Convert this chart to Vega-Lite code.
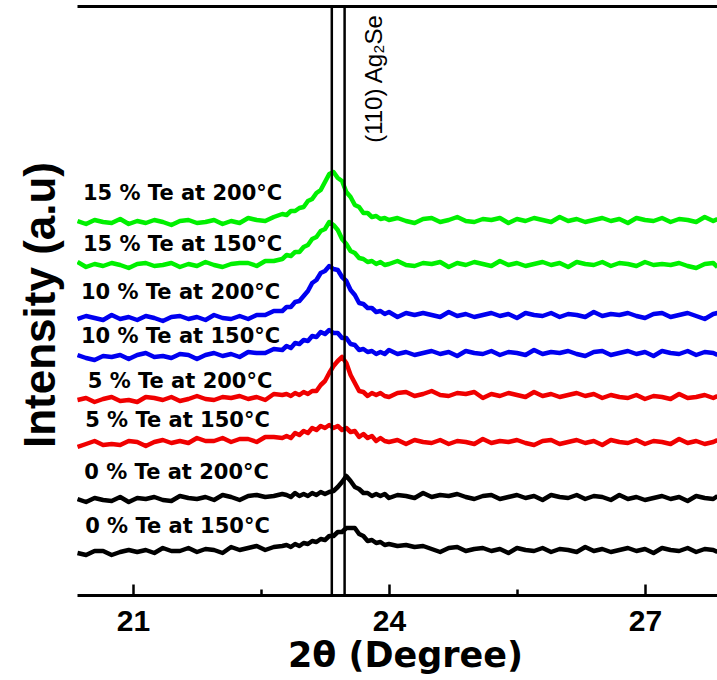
{
  "$schema": "https://vega.github.io/schema/vega-lite/v6.json",
  "width": 640,
  "height": 589,
  "autosize": "none",
  "padding": {"left": 77, "top": 6, "right": 0, "bottom": 85},
  "background": "white",
  "config": {"view": {"stroke": null}, "axis": {"grid": false}},
  "datasets": {
    "curves": [
      {"x":20.35,"g1":374,"g2":333,"b1":276,"b2":240,"r1":195,"r2":148,"k1":96,"k2":42},
      {"x":20.45,"g1":371,"g2":328,"b1":279,"b2":237,"r1":197,"r2":151,"k1":93,"k2":40},
      {"x":20.55,"g1":375,"g2":331,"b1":277,"b2":235,"r1":193,"r2":154,"k1":97,"k2":44},
      {"x":20.65,"g1":373,"g2":329,"b1":275,"b2":239,"r1":196,"r2":150,"k1":95,"k2":44},
      {"x":20.75,"g1":372,"g2":332,"b1":280,"b2":238,"r1":198,"r2":151,"k1":94,"k2":40},
      {"x":20.85,"g1":376,"g2":330,"b1":276,"b2":240,"r1":194,"r2":150,"k1":98,"k2":43},
      {"x":20.95,"g1":371,"g2":327,"b1":278,"b2":236,"r1":195,"r2":154,"k1":93,"k2":45},
      {"x":21.05,"g1":374,"g2":331,"b1":275,"b2":240,"r1":193,"r2":153,"k1":97,"k2":43},
      {"x":21.15,"g1":372,"g2":332,"b1":279,"b2":242,"r1":198,"r2":149,"k1":96,"k2":45},
      {"x":21.25,"g1":375,"g2":329,"b1":277,"b2":238,"r1":197,"r2":153,"k1":98,"k2":42},
      {"x":21.35,"g1":373,"g2":330,"b1":274,"b2":239,"r1":195,"r2":155,"k1":95,"k2":47},
      {"x":21.45,"g1":370,"g2":332,"b1":278,"b2":237,"r1":198,"r2":152,"k1":94,"k2":44},
      {"x":21.55,"g1":374,"g2":328,"b1":279,"b2":241,"r1":194,"r2":154,"k1":99,"k2":44},
      {"x":21.65,"g1":375,"g2":331,"b1":276,"b2":240,"r1":196,"r2":152,"k1":97,"k2":47},
      {"x":21.75,"g1":372,"g2":329,"b1":278,"b2":236,"r1":199,"r2":157,"k1":96,"k2":43},
      {"x":21.85,"g1":373,"g2":333,"b1":275,"b2":240,"r1":196,"r2":154,"k1":98,"k2":46},
      {"x":21.95,"g1":375,"g2":330,"b1":280,"b2":242,"r1":195,"r2":154,"k1":95,"k2":45},
      {"x":22.05,"g1":371,"g2":328,"b1":277,"b2":239,"r1":198,"r2":157,"k1":100,"k2":42},
      {"x":22.15,"g1":374,"g2":331,"b1":276,"b2":241,"r1":197,"r2":153,"k1":98,"k2":48},
      {"x":22.25,"g1":372,"g2":332,"b1":279,"b2":238,"r1":199,"r2":156,"k1":95,"k2":45},
      {"x":22.35,"g1":377,"g2":332,"b1":276,"b2":243,"r1":196,"r2":156,"k1":99,"k2":47},
      {"x":22.45,"g1":375,"g2":329,"b1":280,"b2":242,"r1":198,"r2":153,"k1":100,"k2":49},
      {"x":22.55,"g1":374,"g2":334,"b1":280,"b2":242,"r1":195,"r2":158,"k1":98,"k2":45},
      {"x":22.65,"g1":378,"g2":334,"b1":284,"b2":246,"r1":201,"r2":158,"k1":99,"k2":48},
      {"x":22.75,"g1":381,"g2":336,"b1":284,"b2":245,"r1":200,"r2":157,"k1":101,"k2":49},
      {"x":22.8,"g1":380,"g2":340,"b1":288,"b2":249,"r1":201,"r2":159,"k1":100,"k2":50},
      {"x":22.85,"g1":384,"g2":339,"b1":288,"b2":247,"r1":199,"r2":157,"k1":98,"k2":48},
      {"x":22.9,"g1":384,"g2":343,"b1":293,"b2":252,"r1":202,"r2":162,"k1":102,"k2":51},
      {"x":22.95,"g1":387,"g2":343,"b1":294,"b2":251,"r1":200,"r2":160,"k1":99,"k2":49},
      {"x":23.0,"g1":388,"g2":348,"b1":299,"b2":255,"r1":203,"r2":164,"k1":101,"k2":52},
      {"x":23.05,"g1":394,"g2":350,"b1":304,"b2":254,"r1":201,"r2":162,"k1":99,"k2":51},
      {"x":23.1,"g1":396,"g2":356,"b1":312,"b2":259,"r1":204,"r2":167,"k1":102,"k2":54},
      {"x":23.15,"g1":402,"g2":358,"b1":315,"b2":258,"r1":204,"r2":165,"k1":100,"k2":53},
      {"x":23.2,"g1":405,"g2":364,"b1":322,"b2":263,"r1":210,"r2":169,"k1":103,"k2":56},
      {"x":23.25,"g1":413,"g2":366,"b1":324,"b2":261,"r1":214,"r2":167,"k1":101,"k2":55},
      {"x":23.3,"g1":421,"g2":373,"b1":329,"b2":265,"r1":222,"r2":170,"k1":103,"k2":59},
      {"x":23.35,"g1":423,"g2":370,"b1":326,"b2":262,"r1":229,"r2":167,"k1":104,"k2":59},
      {"x":23.4,"g1":417,"g2":365,"b1":325,"b2":262,"r1":234,"r2":169,"k1":108,"k2":63},
      {"x":23.45,"g1":414,"g2":356,"b1":318,"b2":257,"r1":238,"r2":165,"k1":113,"k2":63},
      {"x":23.5,"g1":403,"g2":351,"b1":314,"b2":257,"r1":232,"r2":167,"k1":119,"k2":67},
      {"x":23.55,"g1":398,"g2":344,"b1":305,"b2":251,"r1":220,"r2":163,"k1":114,"k2":67},
      {"x":23.6,"g1":390,"g2":342,"b1":300,"b2":250,"r1":212,"r2":164,"k1":108,"k2":67},
      {"x":23.65,"g1":388,"g2":337,"b1":292,"b2":245,"r1":204,"r2":158,"k1":106,"k2":61},
      {"x":23.7,"g1":382,"g2":336,"b1":291,"b2":246,"r1":203,"r2":161,"k1":102,"k2":59},
      {"x":23.75,"g1":382,"g2":333,"b1":287,"b2":243,"r1":199,"r2":157,"k1":102,"k2":54},
      {"x":23.8,"g1":378,"g2":334,"b1":287,"b2":244,"r1":202,"r2":159,"k1":99,"k2":55},
      {"x":23.85,"g1":379,"g2":331,"b1":283,"b2":241,"r1":200,"r2":154,"k1":101,"k2":52},
      {"x":23.9,"g1":376,"g2":333,"b1":284,"b2":243,"r1":202,"r2":157,"k1":99,"k2":53},
      {"x":23.95,"g1":377,"g2":330,"b1":281,"b2":241,"r1":199,"r2":154,"k1":101,"k2":50},
      {"x":24.0,"g1":375,"g2":331,"b1":283,"b2":245,"r1":198,"r2":153,"k1":97,"k2":51},
      {"x":24.1,"g1":377,"g2":334,"b1":278,"b2":241,"r1":202,"r2":155,"k1":100,"k2":49},
      {"x":24.2,"g1":374,"g2":330,"b1":282,"b2":243,"r1":203,"r2":151,"k1":99,"k2":50},
      {"x":24.3,"g1":372,"g2":329,"b1":280,"b2":240,"r1":199,"r2":155,"k1":97,"k2":48},
      {"x":24.4,"g1":376,"g2":332,"b1":282,"b2":242,"r1":201,"r2":153,"k1":102,"k2":49},
      {"x":24.5,"g1":377,"g2":331,"b1":280,"b2":244,"r1":204,"r2":152,"k1":98,"k2":46},
      {"x":24.6,"g1":373,"g2":333,"b1":278,"b2":241,"r1":200,"r2":155,"k1":100,"k2":43},
      {"x":24.7,"g1":375,"g2":328,"b1":283,"b2":243,"r1":199,"r2":151,"k1":99,"k2":47},
      {"x":24.8,"g1":378,"g2":332,"b1":279,"b2":239,"r1":202,"r2":154,"k1":101,"k2":48},
      {"x":24.9,"g1":374,"g2":330,"b1":281,"b2":244,"r1":201,"r2":153,"k1":98,"k2":44},
      {"x":25.0,"g1":373,"g2":333,"b1":278,"b2":242,"r1":203,"r2":151,"k1":96,"k2":46},
      {"x":25.1,"g1":376,"g2":331,"b1":280,"b2":241,"r1":197,"r2":156,"k1":99,"k2":47},
      {"x":25.2,"g1":375,"g2":329,"b1":282,"b2":244,"r1":201,"r2":152,"k1":100,"k2":44},
      {"x":25.3,"g1":377,"g2":334,"b1":279,"b2":240,"r1":199,"r2":154,"k1":96,"k2":46},
      {"x":25.4,"g1":372,"g2":330,"b1":281,"b2":243,"r1":202,"r2":153,"k1":98,"k2":42},
      {"x":25.5,"g1":376,"g2":332,"b1":277,"b2":242,"r1":200,"r2":155,"k1":100,"k2":47},
      {"x":25.6,"g1":374,"g2":329,"b1":282,"b2":240,"r1":198,"r2":152,"k1":97,"k2":45},
      {"x":25.7,"g1":377,"g2":331,"b1":280,"b2":245,"r1":203,"r2":150,"k1":99,"k2":44},
      {"x":25.8,"g1":375,"g2":333,"b1":279,"b2":241,"r1":199,"r2":154,"k1":95,"k2":47},
      {"x":25.9,"g1":373,"g2":330,"b1":282,"b2":243,"r1":201,"r2":155,"k1":100,"k2":43},
      {"x":26.0,"g1":378,"g2":332,"b1":278,"b2":242,"r1":198,"r2":151,"k1":98,"k2":46},
      {"x":26.1,"g1":374,"g2":328,"b1":281,"b2":244,"r1":200,"r2":153,"k1":97,"k2":45},
      {"x":26.2,"g1":376,"g2":333,"b1":280,"b2":241,"r1":202,"r2":155,"k1":100,"k2":43},
      {"x":26.3,"g1":373,"g2":331,"b1":278,"b2":239,"r1":199,"r2":152,"k1":96,"k2":48},
      {"x":26.4,"g1":375,"g2":330,"b1":283,"b2":243,"r1":201,"r2":154,"k1":99,"k2":44},
      {"x":26.5,"g1":377,"g2":333,"b1":279,"b2":244,"r1":197,"r2":150,"k1":98,"k2":46},
      {"x":26.6,"g1":374,"g2":329,"b1":281,"b2":240,"r1":200,"r2":155,"k1":95,"k2":43},
      {"x":26.7,"g1":376,"g2":332,"b1":280,"b2":242,"r1":198,"r2":153,"k1":100,"k2":45},
      {"x":26.8,"g1":372,"g2":331,"b1":282,"b2":244,"r1":197,"r2":152,"k1":96,"k2":47},
      {"x":26.9,"g1":377,"g2":329,"b1":279,"b2":241,"r1":200,"r2":155,"k1":98,"k2":44},
      {"x":27.0,"g1":375,"g2":333,"b1":277,"b2":243,"r1":196,"r2":151,"k1":95,"k2":46},
      {"x":27.1,"g1":374,"g2":330,"b1":281,"b2":239,"r1":199,"r2":154,"k1":97,"k2":42},
      {"x":27.2,"g1":377,"g2":331,"b1":282,"b2":244,"r1":198,"r2":153,"k1":99,"k2":47},
      {"x":27.3,"g1":373,"g2":330,"b1":278,"b2":242,"r1":196,"r2":151,"k1":96,"k2":45},
      {"x":27.4,"g1":376,"g2":332,"b1":280,"b2":241,"r1":201,"r2":156,"k1":98,"k2":44},
      {"x":27.5,"g1":375,"g2":329,"b1":282,"b2":244,"r1":197,"r2":152,"k1":94,"k2":47},
      {"x":27.6,"g1":373,"g2":327,"b1":279,"b2":240,"r1":198,"r2":154,"k1":99,"k2":43},
      {"x":27.7,"g1":378,"g2":331,"b1":276,"b2":243,"r1":200,"r2":151,"k1":97,"k2":46},
      {"x":27.8,"g1":374,"g2":332,"b1":281,"b2":242,"r1":197,"r2":153,"k1":96,"k2":45},
      {"x":27.85,"g1":376,"g2":328,"b1":282,"b2":240,"r1":199,"r2":155,"k1":99,"k2":43}
    ],
    "labels": [
      {"label":"15 % Te at 200°C","lx":20.414,"ly":401},
      {"label":"15 % Te at 150°C","lx":20.414,"ly":350},
      {"label":"10 % Te at 200°C","lx":20.39,"ly":302},
      {"label":"10 % Te at 150°C","lx":20.39,"ly":258},
      {"label":"5 % Te at 200°C","lx":20.47,"ly":213},
      {"label":"5 % Te at 150°C","lx":20.44,"ly":174},
      {"label":"0 % Te at 200°C","lx":20.43,"ly":122},
      {"label":"0 % Te at 150°C","lx":20.44,"ly":68}
    ],
    "refs": [{"x":23.33},{"x":23.48}],
    "peak": [{"t":"(110) Ag₂Se","px":23.84,"py":516}],
    "ytitle": [{"t":"Intensity (a.u)","px":20.086,"py":290}]
  },
  "layer": [
    {
      "data": {"name": "curves"},
      "transform": [{"fold": ["g1","g2","b1","b2","r1","r2","k1","k2"], "as": ["series","value"]}],
      "mark": {"type": "line", "strokeWidth": 4.5, "strokeJoin": "round", "clip": true},
      "encoding": {
        "x": {"field": "x", "type": "quantitative", "title": "2θ (Degree)",
              "scale": {"domain": [20.344, 27.844], "nice": false, "zero": false},
              "axis": {"orient": "bottom", "values": [21, 22.5, 24, 25.5, 27], "format": ".1f",
                       "labelExpr": "datum.value % 3 == 0 ? format(datum.value, 'd') : ''",
                       "domain": true, "domainWidth": 3, "domainColor": "black",
                       "ticks": true, "tickColor": "black", "tickWidth": 2.5,
                       "tickSize": {"condition": {"test": "datum.value % 3 == 0", "value": -11}, "value": -6},
                       "labelFont": "Liberation Sans", "labelFontSize": 30, "labelFontWeight": "bold", "labelColor": "black",
                       "labelPadding": 22,
                       "titleFont": "DejaVu Sans", "titleFontSize": 35, "titleFontWeight": "bold", "titleColor": "black",
                       "titleX": 328, "titleY": 71, "titleAlign": "center", "titleBaseline": "alphabetic"}},
        "y": {"field": "value", "type": "quantitative",
              "scale": {"domain": [0, 589], "nice": false, "zero": false},
              "axis": {"orient": "left", "domain": true, "domainWidth": 3, "domainColor": "black",
                       "ticks": false, "labels": false, "title": null}},
        "color": {"field": "series", "type": "nominal",
                  "scale": {"domain": ["g1","g2","b1","b2","r1","r2","k1","k2"],
                            "range": ["#00F000","#00F000","#0000F0","#0000F0","#F00000","#F00000","#000000","#000000"]},
                  "legend": null}
      }
    },
    {
      "data": {"name": "refs"},
      "mark": {"type": "rule", "strokeWidth": 2.5, "color": "black"},
      "encoding": {"x": {"field": "x", "type": "quantitative", "axis": null}}
    },
    {
      "data": {"name": "labels"},
      "mark": {"type": "text", "align": "left", "baseline": "middle", "font": "DejaVu Sans", "fontSize": 21, "fontWeight": "bold", "color": "black"},
      "encoding": {
        "x": {"field": "lx", "type": "quantitative",
              "axis": {"orient": "top", "domain": true, "domainWidth": 3, "domainColor": "black", "ticks": false, "labels": false, "title": null, "grid": false}},
        "y": {"field": "ly", "type": "quantitative", "axis": null},
        "text": {"field": "label"}
      }
    },
    {
      "data": {"name": "peak"},
      "mark": {"type": "text", "angle": 270, "align": "center", "baseline": "middle", "font": "Liberation Sans", "fontSize": 24, "color": "black"},
      "encoding": {
        "x": {"field": "px", "type": "quantitative", "axis": null},
        "y": {"field": "py", "type": "quantitative", "axis": null},
        "text": {"field": "t"}
      }
    },
    {
      "data": {"name": "ytitle"},
      "mark": {"type": "text", "angle": 270, "align": "center", "baseline": "alphabetic", "font": "Liberation Sans", "fontSize": 44, "fontWeight": "bold", "color": "black", "clip": false},
      "encoding": {
        "x": {"field": "px", "type": "quantitative", "axis": null},
        "y": {"field": "py", "type": "quantitative", "axis": null},
        "text": {"field": "t"}
      }
    }
  ],
  "resolve": {"axis": {"x": "independent"}}
}
